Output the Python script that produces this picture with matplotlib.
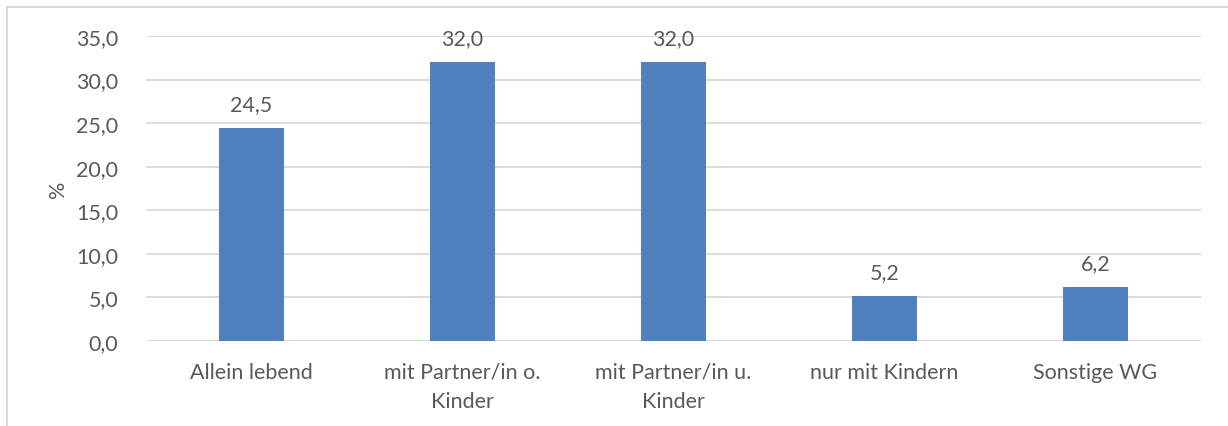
import matplotlib
matplotlib.use("Agg")
import matplotlib.pyplot as plt
from matplotlib.patches import Rectangle

categories = ["Allein lebend", "mit Partner/in o.\nKinder", "mit Partner/in u.\nKinder", "nur mit Kindern", "Sonstige WG"]
values = [24.5, 32.0, 32.0, 5.2, 6.2]
yticks = [0, 5, 10, 15, 20, 25, 30, 35]

plt.rcParams['font.family'] = ['Lato', 'DejaVu Sans']
txt = '#595959'
fs = 15.5

fig = plt.figure(figsize=(12.28, 4.27), dpi=100)
ax = fig.add_axes([146/1228, 1-342/427, (1201-146)/1228, (342-37)/427])

x = list(range(len(categories)))
ax.bar(x, values, width=0.31, color='#4f81bd', zorder=3)
for xi, v in zip(x, values):
    ax.annotate(f"{v:.1f}".replace('.', ','), (xi, v), xytext=(0, 10), textcoords='offset points',
                ha='center', va='bottom', fontsize=fs, color=txt)

ax.set_xlim(-0.5, len(categories) - 0.5)
ax.set_ylim(0, 35)
ax.set_yticks(yticks)
ax.set_yticklabels([f"{t:.1f}".replace('.', ',') for t in yticks])
ax.set_xticks(x)
ax.set_xticklabels(categories, linespacing=1.55)
ax.tick_params(axis='both', length=0, labelsize=fs, colors=txt)
ax.tick_params(axis='y', pad=20)
ax.tick_params(axis='x', pad=15)
ax.grid(axis='y', color='#d9d9d9', linewidth=1.3, zorder=0)
for s in ax.spines.values():
    s.set_visible(False)
ax.set_ylabel('%', fontsize=fs, color=txt, labelpad=6)

fig.patches.append(Rectangle((7/1228, -0.1), 1.2, 1 - 8/427 + 0.1, transform=fig.transFigure,
                             fill=False, edgecolor='#d9d9d9', linewidth=1.5, zorder=0))

fig.savefig('out.png', dpi=100)
